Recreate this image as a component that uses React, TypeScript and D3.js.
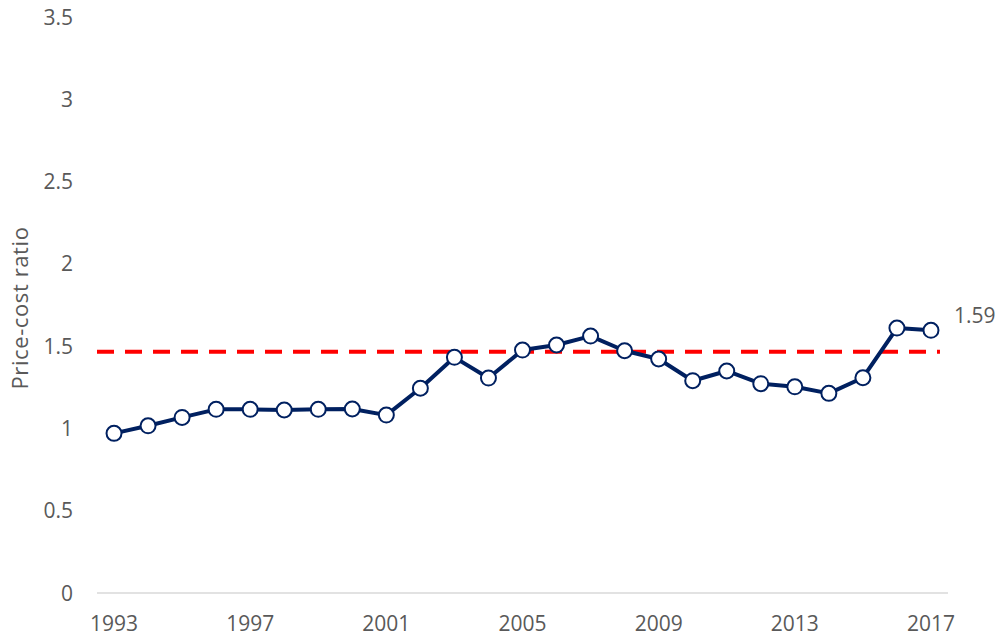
import * as d3 from "d3";
import React, { useEffect, useRef } from "react";

const years = [
  1993, 1994, 1995, 1996, 1997, 1998, 1999, 2000, 2001, 2002, 2003, 2004, 2005,
  2006, 2007, 2008, 2009, 2010, 2011, 2012, 2013, 2014, 2015, 2016, 2017,
];
const ratio = [
  0.97, 1.016, 1.067, 1.116, 1.116, 1.112, 1.116, 1.118, 1.081, 1.244, 1.432,
  1.306, 1.476, 1.507, 1.561, 1.472, 1.422, 1.29, 1.349, 1.272, 1.253, 1.213,
  1.308, 1.61, 1.596,
];
const average = 1.466;
const yTicks = [0, 0.5, 1, 1.5, 2, 2.5, 3, 3.5];
const xTickYears = [1993, 1997, 2001, 2005, 2009, 2013, 2017];
const lastLabel = "1.59";

export default function App() {
  const ref = useRef<SVGSVGElement>(null);

  useEffect(() => {
    // dimensions of the chart area
    const width = 999;
    const height = 640;
    const margin = { top: 17, right: 51, bottom: 47, left: 97 };
    const font = "'Open Sans', 'Noto Sans', sans-serif";
    const textColor = "#595959";
    const navy = "#002060";

    const svg = d3.select(ref.current);
    svg.selectAll("*").remove();
    svg.attr("width", width).attr("height", height);

    const x = d3
      .scaleBand<number>()
      .domain(years)
      .range([margin.left, width - margin.right]);
    const cx = (yr: number) => (x(yr) as number) + x.bandwidth() / 2;

    const y = d3
      .scaleLinear()
      .domain([0, 3.5])
      .range([height - margin.bottom, margin.top]);

    // y tick labels
    svg
      .append("g")
      .selectAll("text")
      .data(yTicks)
      .join("text")
      .attr("x", margin.left - 24)
      .attr("y", (d) => y(d))
      .attr("dy", "0.36em")
      .attr("text-anchor", "end")
      .attr("font-family", font)
      .attr("font-size", 21)
      .attr("fill", textColor)
      .text((d) => String(d));

    // x axis line
    svg
      .append("line")
      .attr("x1", margin.left)
      .attr("x2", width - margin.right)
      .attr("y1", y(0))
      .attr("y2", y(0))
      .attr("stroke", "#d9d9d9")
      .attr("stroke-width", 1.5);

    // x tick labels
    svg
      .append("g")
      .selectAll("text")
      .data(xTickYears)
      .join("text")
      .attr("x", (d) => cx(d))
      .attr("y", 631)
      .attr("text-anchor", "middle")
      .attr("font-family", font)
      .attr("font-size", 21)
      .attr("fill", textColor)
      .text((d) => String(d));

    // y axis title
    svg
      .append("text")
      .attr("transform", `translate(28,308) rotate(-90)`)
      .attr("text-anchor", "middle")
      .attr("font-family", font)
      .attr("font-size", 22)
      .attr("letter-spacing", 0.6)
      .attr("fill", textColor)
      .text("Price-cost ratio");

    // average dashed line
    svg
      .append("line")
      .attr("x1", margin.left)
      .attr("x2", cx(2017) + 9)
      .attr("y1", y(average))
      .attr("y2", y(average))
      .attr("stroke", "#ff0000")
      .attr("stroke-width", 4)
      .attr("stroke-dasharray", "17 11");

    // series line
    const pts = years.map((yr, i) => [cx(yr), y(ratio[i])] as [number, number]);
    svg
      .append("path")
      .attr("d", d3.line()(pts))
      .attr("fill", "none")
      .attr("stroke", navy)
      .attr("stroke-width", 4)
      .attr("stroke-linejoin", "round");

    svg
      .append("g")
      .selectAll("circle")
      .data(pts)
      .join("circle")
      .attr("cx", (d) => d[0])
      .attr("cy", (d) => d[1])
      .attr("r", 7.5)
      .attr("fill", "#fff")
      .attr("stroke", navy)
      .attr("stroke-width", 2);

    // label for last value
    const last = pts[pts.length - 1];
    svg
      .append("text")
      .attr("x", last[0] + 23)
      .attr("y", last[1] - 7)
      .attr("font-family", font)
      .attr("font-size", 21)
      .attr("fill", textColor)
      .text(lastLabel);
  }, []);

  return (
    <svg
      ref={ref}
      style={{ position: "absolute", left: 0, top: 0, display: "block" }}
    ></svg>
  );
}
